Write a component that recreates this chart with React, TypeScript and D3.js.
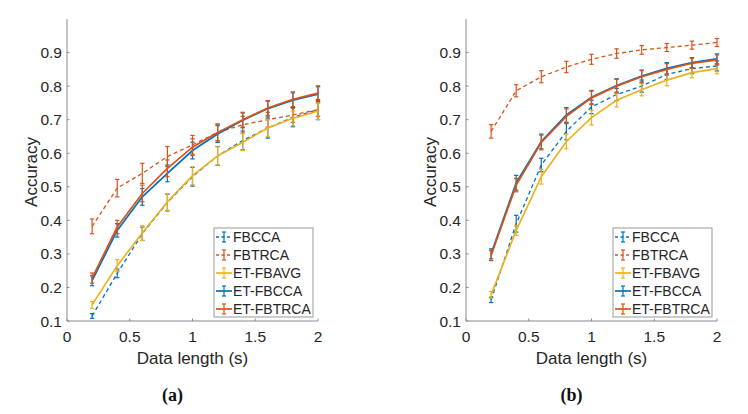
import React from "react";
import * as d3 from "d3";

// data length (s)
const xs = [0.2, 0.4, 0.6, 0.8, 1.0, 1.2, 1.4, 1.6, 1.8, 2.0];
const xTicks = [0, 0.5, 1, 1.5, 2];
const yTicks = [0.1, 0.2, 0.3, 0.4, 0.5, 0.6, 0.7, 0.8, 0.9];

const names = ["FBCCA", "FBTRCA", "ET-FBAVG", "ET-FBCCA", "ET-FBTRCA"];
const colors = ["#0072BD", "#D95319", "#EDB120", "#0072BD", "#D95319"];
const dashed = [true, true, false, false, false];

// panel (a)
const aFBCCA = [0.115, 0.242, 0.36, 0.453, 0.53, 0.592, 0.638, 0.675, 0.707, 0.73];
const aFBTRCA = [0.382, 0.496, 0.54, 0.59, 0.625, 0.662, 0.685, 0.7, 0.714, 0.73];
const aETFBAVG = [0.148, 0.265, 0.362, 0.455, 0.533, 0.592, 0.633, 0.675, 0.704, 0.726];
const aETFBCCA = [0.22, 0.37, 0.47, 0.54, 0.608, 0.657, 0.698, 0.733, 0.758, 0.776];
const aETFBTRCA = [0.228, 0.38, 0.48, 0.555, 0.618, 0.662, 0.7, 0.735, 0.761, 0.779];
const aErrFBCCA = [0.007, 0.013, 0.02, 0.025, 0.028, 0.028, 0.028, 0.03, 0.028, 0.03];
const aErrFBTRCA = [0.022, 0.026, 0.03, 0.03, 0.028, 0.025, 0.025, 0.022, 0.022, 0.02];
const aErrETFBAVG = [0.01, 0.018, 0.022, 0.025, 0.027, 0.027, 0.025, 0.025, 0.022, 0.025];
const aErrETFBCCA = [0.015, 0.02, 0.025, 0.025, 0.025, 0.025, 0.022, 0.022, 0.022, 0.022];
const aErrETFBTRCA = [0.015, 0.02, 0.025, 0.025, 0.025, 0.025, 0.022, 0.022, 0.022, 0.022];

// panel (b)
const bFBCCA = [0.163, 0.39, 0.565, 0.665, 0.738, 0.775, 0.8, 0.835, 0.852, 0.86];
const bFBTRCA = [0.665, 0.786, 0.828, 0.857, 0.88, 0.897, 0.908, 0.915, 0.922, 0.93];
const bETFBAVG = [0.178, 0.37, 0.53, 0.635, 0.706, 0.758, 0.789, 0.818, 0.84, 0.852];
const bETFBCCA = [0.3, 0.512, 0.635, 0.714, 0.767, 0.802, 0.83, 0.853, 0.87, 0.881];
const bETFBTRCA = [0.295, 0.505, 0.632, 0.71, 0.765, 0.8, 0.828, 0.85, 0.868, 0.878];
const bErrFBCCA = [0.008, 0.025, 0.02, 0.025, 0.02, 0.018, 0.018, 0.015, 0.015, 0.015];
const bErrFBTRCA = [0.02, 0.018, 0.018, 0.017, 0.015, 0.014, 0.013, 0.012, 0.012, 0.012];
const bErrETFBAVG = [0.01, 0.015, 0.022, 0.022, 0.022, 0.02, 0.018, 0.017, 0.015, 0.015];
const bErrETFBCCA = [0.015, 0.022, 0.022, 0.022, 0.02, 0.02, 0.018, 0.017, 0.015, 0.015];
const bErrETFBTRCA = [0.015, 0.02, 0.022, 0.022, 0.02, 0.02, 0.018, 0.017, 0.015, 0.015];

const panelA = {
  label: "(a)",
  left: 67,
  values: [aFBCCA, aFBTRCA, aETFBAVG, aETFBCCA, aETFBTRCA],
  errs: [aErrFBCCA, aErrFBTRCA, aErrETFBAVG, aErrETFBCCA, aErrETFBTRCA],
};
const panelB = {
  label: "(b)",
  left: 466,
  values: [bFBCCA, bFBTRCA, bETFBAVG, bETFBCCA, bETFBTRCA],
  errs: [bErrFBCCA, bErrFBTRCA, bErrETFBAVG, bErrETFBCCA, bErrETFBTRCA],
};

const W = 748,
  H = 414,
  top = 19,
  bottom = 321,
  plotW = 251,
  font = "'Liberation Sans', Arial, sans-serif",
  axisColor = "#8a8a8a",
  textColor = "#262626";

const Panel = ({ panel }: { panel: typeof panelA }) => {
  const x = d3.scaleLinear().domain([0, 2]).range([panel.left, panel.left + plotW]);
  const y = d3.scaleLinear().domain([0.1, 1.0]).range([bottom, top]);
  const line = d3
    .line<number>()
    .x((_, i) => x(xs[i]))
    .y((d) => y(d));
  const cap = 2.2;
  const legX = panel.left + 147;
  const legY = 228;

  return (
    <g>
      {/* axes */}
      <line x1={panel.left} x2={panel.left} y1={top} y2={bottom} stroke={axisColor} />
      <line x1={panel.left} x2={panel.left + plotW} y1={bottom} y2={bottom} stroke={axisColor} />
      {yTicks.map((t) => (
        <g key={t}>
          <line x1={panel.left} x2={panel.left + 2.5} y1={y(t)} y2={y(t)} stroke={axisColor} />
          <text
            x={panel.left - 5}
            y={y(t)}
            dy="0.36em"
            textAnchor="end"
            fontSize={15.5}
            fill={textColor}
            fontFamily={font}
          >
            {t.toFixed(1)}
          </text>
        </g>
      ))}
      {xTicks.map((t) => (
        <g key={t}>
          <line x1={x(t)} x2={x(t)} y1={bottom} y2={bottom - 2.5} stroke={axisColor} />
          <text
            x={x(t)}
            y={bottom + 21}
            textAnchor="middle"
            fontSize={15.5}
            fill={textColor}
            fontFamily={font}
          >
            {t}
          </text>
        </g>
      ))}
      <text
        x={(x(0) + x(2)) / 2}
        y={364}
        textAnchor="middle"
        fontSize={17}
        fill={textColor}
        fontFamily={font}
      >
        Data length (s)
      </text>
      <text
        transform={`translate(${panel.left - 30},${(top + bottom) / 2 + 2}) rotate(-90)`}
        textAnchor="middle"
        fontSize={17}
        fill={textColor}
        fontFamily={font}
      >
        Accuracy
      </text>
      <text
        x={(x(0) + x(2)) / 2 - 20}
        y={401}
        textAnchor="middle"
        fontSize={18}
        fontWeight="bold"
        fontFamily="'Liberation Serif', 'DejaVu Serif', serif"
        fill="#111"
      >
        {panel.label}
      </text>

      {/* series */}
      {panel.values.map((vals, s) => (
        <g key={s}>
          <path
            d={line(vals) || ""}
            fill="none"
            stroke={colors[s]}
            strokeWidth={dashed[s] ? 1.3 : 1.7}
            strokeDasharray={dashed[s] ? "4,3" : undefined}
          />
          {vals.map((v, i) => {
            const e = panel.errs[s][i];
            const cx = x(xs[i]);
            return (
              <g key={i} stroke={colors[s]} strokeWidth={1.2}>
                <line x1={cx} x2={cx} y1={y(v - e)} y2={y(v + e)} />
                <line x1={cx - cap} x2={cx + cap} y1={y(v - e)} y2={y(v - e)} />
                <line x1={cx - cap} x2={cx + cap} y1={y(v + e)} y2={y(v + e)} />
              </g>
            );
          })}
        </g>
      ))}

      {/* legend */}
      <rect x={legX} y={legY} width={99} height={89} fill="white" stroke="#999" strokeWidth={1} />
      {names.map((n, i) => {
        const ly = legY + 9 + i * 18;
        return (
          <g key={n}>
            <line
              x1={legX + 2}
              x2={legX + 18}
              y1={ly}
              y2={ly}
              stroke={colors[i]}
              strokeWidth={dashed[i] ? 1.3 : 1.7}
              strokeDasharray={dashed[i] ? "3,2.5" : undefined}
            />
            <line x1={legX + 10} x2={legX + 10} y1={ly - 5} y2={ly + 5} stroke={colors[i]} strokeWidth={1.2} />
            <line x1={legX + 8} x2={legX + 12} y1={ly - 5} y2={ly - 5} stroke={colors[i]} strokeWidth={1.2} />
            <line x1={legX + 8} x2={legX + 12} y1={ly + 5} y2={ly + 5} stroke={colors[i]} strokeWidth={1.2} />
            <text x={legX + 19} y={ly} dy="0.36em" fontSize={14} fill={textColor} fontFamily={font}>
              {n}
            </text>
          </g>
        );
      })}
    </g>
  );
};

export default function App() {
  return (
    <svg
      width={W}
      height={H}
      viewBox={`0 0 ${W} ${H}`}
      style={{ position: "absolute", left: 0, top: 0, background: "white" }}
    >
      <rect width={W} height={H} fill="white" />
      <Panel panel={panelA} />
      <Panel panel={panelB} />
    </svg>
  );
}
